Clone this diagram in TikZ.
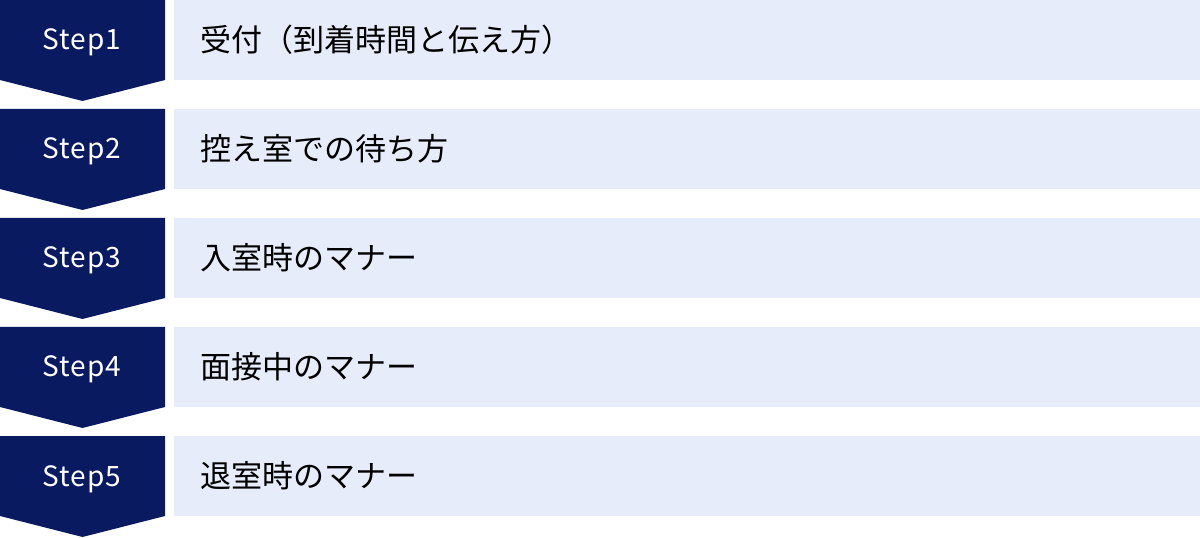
\documentclass[tikz,border=0pt]{standalone}
\usepackage{fontspec}
\newfontfamily\jpfont{Noto Sans CJK JP}
\newfontfamily\stepfont[LetterSpace=4]{Noto Sans CJK JP}
\usetikzlibrary{positioning}
\definecolor{stepnavy}{HTML}{0A1A60}
\definecolor{itembg}{HTML}{E6ECF9}

\begin{document}
\begin{tikzpicture}[x=1bp, y=-1bp,
  steplabel/.style={text=white, anchor=base, font=\stepfont\fontsize{28bp}{32bp}\selectfont, inner sep=0pt},
  itembox/.style={fill=itembg, anchor=north west, minimum width=1026bp, minimum height=80bp, inner sep=0pt},
  itemtext/.style={anchor=west, font=\jpfont\fontsize{31bp}{34bp}\selectfont, inner sep=0pt}]
\useasboundingbox (0,0) rectangle (1200,538);
\foreach \i/\txt in {1/受付（到着時間と伝え方）, 2/控え室での待ち方, 3/入室時のマナー, 4/面接中のマナー, 5/退室時のマナー} {
  \pgfmathsetmacro\ytop{(\i-1)*109}
  % chevron
  \fill[stepnavy] (0,\ytop) -- (165,\ytop) -- (165,\ytop+80) -- (82.5,\ytop+101) -- (0,\ytop+80) -- cycle;
  \node[steplabel] (s\i) at (82,\ytop+50) {Step\i};
  \node[itembox] (b\i) at (174,\ytop) {};
  \node[itemtext] (t\i) at (200,\ytop+40) {\txt};
}
\end{tikzpicture}
\end{document}
